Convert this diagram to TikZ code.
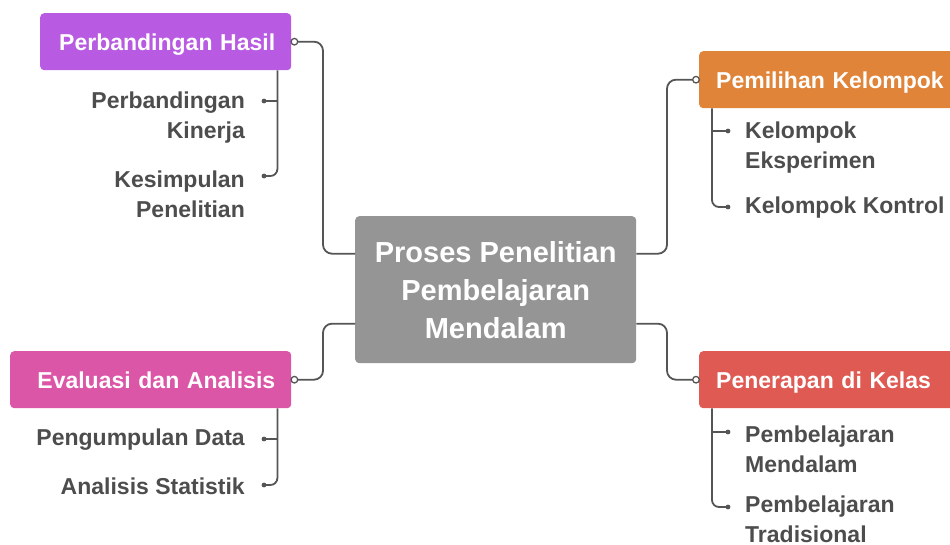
\documentclass[tikz,border=0pt]{standalone}
\usepackage{fontspec}
\setmainfont{Liberation Sans}
\definecolor{cpurple}{HTML}{B85BE2}
\definecolor{corange}{HTML}{E0843A}
\definecolor{cred}{HTML}{E05A54}
\definecolor{cpink}{HTML}{DC56A8}
\definecolor{cgray}{HTML}{959595}
\definecolor{leafc}{HTML}{4D4D4D}
\definecolor{linec}{HTML}{555555}
\newcommand{\hfont}{\fontsize{23}{28}\selectfont\bfseries}
\newcommand{\cfont}{\fontsize{29}{38}\selectfont\bfseries}
\newcommand{\lfont}{\fontsize{23}{30}\selectfont\bfseries}
\begin{document}
\begin{tikzpicture}[x=1pt,y=-1pt,
  box/.style={rounded corners=4pt, inner sep=0pt, text=white, font=\hfont, minimum height=57pt},
  conn/.style={draw=linec, line width=1.8pt, rounded corners=9pt},
  sub/.style={draw=linec, line width=1.8pt, rounded corners=7pt},
  leaf/.style={text=leafc, font=\lfont, inner sep=0pt},
  ring/.style={draw=linec, line width=1.3pt, fill=white},
]
\useasboundingbox (0,0) rectangle (950,545);

% central
\node[box, fill=cgray, font=\cfont, minimum width=281pt, minimum height=147pt, anchor=north west, align=center] (c) at (355,216) {Proses Penelitian\\Pembelajaran\\Mendalam};

% main boxes
\node[box, fill=cpurple, minimum width=251pt, text width=219pt, text depth=0pt, align=right, anchor=north west] (ph) at (40,13) {Perbandingan Hasil};
\node[box, fill=cpink, minimum width=281pt, text width=249pt, text depth=0pt, align=right, anchor=north west] (ea) at (10,351) {Evaluasi dan Analisis};
\node[box, fill=corange, minimum width=270pt, text width=236pt, text depth=0pt, align=left, anchor=north west] (pk) at (699,51) {Pemilihan Kelompok};
\node[box, fill=cred, minimum width=270pt, text width=236pt, text depth=0pt, align=left, anchor=north west] (pd) at (699,351) {Penerapan di Kelas};

% connectors centre -> boxes
\draw[conn] ([xshift=3pt]ph.east) -| (323,150) |- ([yshift=36pt]c.west);
\draw[conn] ([xshift=3pt]ea.east) -| (323,350) |- ([yshift=-34pt]c.west);
\draw[conn] ([yshift=36pt]c.east) -| (667,150) |- ([xshift=-3pt]pk.west);
\draw[conn] ([yshift=-34pt]c.east) -| (667,350) |- ([xshift=-3pt]pd.west);
\draw[ring] ([xshift=3pt]ph.east) circle (3.3pt);
\draw[ring] ([xshift=3pt]ea.east) circle (3.3pt);
\draw[ring] ([xshift=-3pt]pk.west) circle (3.3pt);
\draw[ring] ([xshift=-3pt]pd.west) circle (3.3pt);

% leaves: Perbandingan Hasil
\coordinate (d1) at (264,101);
\coordinate (d2) at (264,176);
\node[leaf, align=right, anchor=east] (l1) at (245,118) {Perbandingan\\Kinerja};
\node[leaf, align=right, anchor=east] (l2) at (245,194) {Kesimpulan\\Penelitian};
\draw[sub] ([xshift=-14pt]ph.south east) |- (d2);
\draw[sub] (277,101) -- (d1);
\fill[linec] (d1) circle (2.4pt) (d2) circle (2.4pt);

% leaves: Evaluasi dan Analisis
\coordinate (d3) at (264,439);
\coordinate (d4) at (264,485);
\node[leaf, anchor=east] (l3) at (245,440) {Pengumpulan Data};
\node[leaf, anchor=east] (l4) at (245,486) {Analisis Statistik};
\draw[sub] ([xshift=-14pt]ea.south east) |- (d4);
\draw[sub] (277,439) -- (d3);
\fill[linec] (d3) circle (2.4pt) (d4) circle (2.4pt);

% leaves: Pemilihan Kelompok
\coordinate (d5) at (728,131);
\coordinate (d6) at (728,207);
\node[leaf, align=left, anchor=west] (l5) at (745,148) {Kelompok\\Eksperimen};
\node[leaf, anchor=west] (l6) at (745,208) {Kelompok Kontrol};
\draw[sub] ([xshift=13pt]pk.south west) |- (d6);
\draw[sub] (712,131) -- (d5);
\fill[linec] (d5) circle (2.4pt) (d6) circle (2.4pt);

% leaves: Penerapan di Kelas
\coordinate (d7) at (728,432);
\coordinate (d8) at (728,507);
\node[leaf, align=left, anchor=west] (l7) at (745,449) {Pembelajaran\\Mendalam};
\node[leaf, align=left, anchor=west] (l8) at (745,519) {Pembelajaran\\Tradisional};
\draw[sub] ([xshift=13pt]pd.south west) |- (d8);
\draw[sub] (712,432) -- (d7);
\fill[linec] (d7) circle (2.4pt) (d8) circle (2.4pt);
\end{tikzpicture}
\end{document}
